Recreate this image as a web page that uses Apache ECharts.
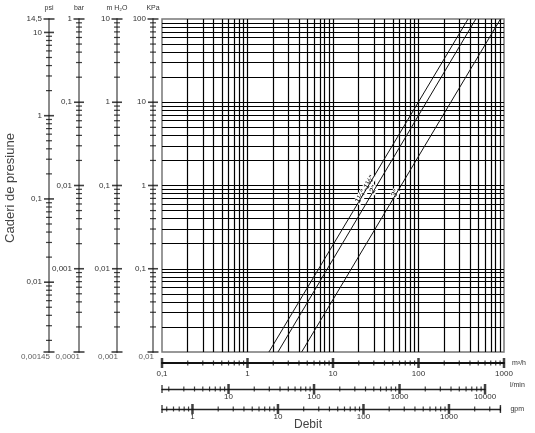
<!DOCTYPE html>
<html><head><meta charset="utf-8">
<script src="https://cdn.jsdelivr.net/npm/echarts@6/dist/echarts.min.js"></script>
<style>html,body{margin:0;padding:0;background:#fff}#c{width:535px;height:433px}</style>
</head><body><div id="c"></div>
<script>
// ---------------- DATA ----------------
// pressure-loss curves: [flow m3/h, pressure drop KPa]
const curveNames = ['1¼"-1½"', '2"', '3"'];
const curve1 = [[1.78, 0.01], [380, 100]];
const curve2 = [[2.27, 0.01], [468, 100]];
const curve3 = [[4.30, 0.01], [910, 100]];
const curveLabelKPa = [0.95, 0.95, 0.85];

// main axes ranges
const flowRange = [0.1, 1000];     // m3/h
const kpaRange = [0.01, 100];      // KPa
// left pressure scales
const psiRange = [0.00145, 14.5];
const barRange = [0.0001, 1];
const mh2oRange = [0.001, 10];
// bottom flow scales
const lminRange = [1.66667, 10000];
const gpmRange = [0.44029, 4000];
// tick multipliers inside a decade (1 = decade tick)
const decadeMultipliers = [1, 2, 3, 4, 5, 6, 7, 8, 9];
// titles
const leftTitles = ['psi', 'bar', 'm H\u2082O', 'KPa'];
const bottomTitles = ['m\u00b3/h', 'l/min', 'gpm'];
const yTitle = 'Caderi de presiune';
const xTitle = 'Debit';

// ---------------- LAYOUT ----------------
const FONT = "'Liberation Sans', Arial, sans-serif";
const TXT = '#333';
const plot = {left: 162, top: 19, width: 342, height: 333};
const leftX = [49, 79, 117, 153];
const bottomY = [363, 389, 409];

function decadeTicks(min, max) {
  const majors = [], minors = [];
  const k0 = Math.floor(Math.log10(min)) - 1, k1 = Math.ceil(Math.log10(max)) + 1;
  for (let k = k0; k <= k1; k++) for (const m of decadeMultipliers) {
    const v = +(m * Math.pow(10, k)).toPrecision(6);
    if (v < min * (1 - 1e-6) || v > max * (1 + 1e-6)) continue;
    (m === 1 ? majors : minors).push(v);
  }
  return {majors, minors};
}
function fmt(v) { return String(+(+v).toPrecision(6)).replace('.', ','); }
function isDecade(v) { const l = Math.log10(v); return Math.abs(l - Math.round(l)) < 1e-6; }

const grid = [], xAxis = [], yAxis = [], series = [];

// main grid
grid.push({left: plot.left, top: plot.top, width: plot.width, height: plot.height, show: true,
  borderColor: '#777', borderWidth: 1.5, outerBoundsMode: 'none'});
xAxis.push({type: 'log', gridIndex: 0, min: flowRange[0], max: flowRange[1], show: false});
yAxis.push({type: 'log', gridIndex: 0, min: kpaRange[0], max: kpaRange[1], show: false});

const vt = decadeTicks(flowRange[0], flowRange[1]);
const ht = decadeTicks(kpaRange[0], kpaRange[1]);
const vLines = vt.majors.concat(vt.minors).filter(v => v > flowRange[0] * 1.0001 && v < flowRange[1] * 0.9999);
const hLines = ht.majors.concat(ht.minors).filter(v => v > kpaRange[0] * 1.0001 && v < kpaRange[1] * 0.9999);
series.push({type: 'line', xAxisIndex: 0, yAxisIndex: 0, data: [], silent: true,
  markLine: {silent: true, symbol: ['none', 'none'], label: {show: false}, animation: false,
    lineStyle: {color: '#000', width: 1.2, type: 'solid'},
    data: vLines.map(v => ({xAxis: v})).concat(hLines.map(v => ({yAxis: v})))}});

[curve1, curve2, curve3].forEach((c, i) => {
  const lq0 = Math.log10(c[0][0]), lp0 = Math.log10(c[0][1]);
  const lq1 = Math.log10(c[1][0]), lp1 = Math.log10(c[1][1]);
  const lp = Math.log10(curveLabelKPa[i]);
  const q = Math.pow(10, lq0 + (lp - lp0) * (lq1 - lq0) / (lp1 - lp0));
  series.push({type: 'line', name: curveNames[i], xAxisIndex: 0, yAxisIndex: 0, data: c,
    symbol: 'none', silent: true, z: 5, lineStyle: {color: '#111', width: 1},
    markPoint: {symbol: 'circle', symbolSize: 0, silent: true, animation: false,
      data: [{coord: [q, curveLabelKPa[i]], value: curveNames[i]}],
      label: {show: true, position: 'inside', formatter: curveNames[i], rotate: 59,
        fontSize: 8, fontFamily: FONT, color: '#000', backgroundColor: '#fff', padding: [0, 1],
        offset: [-3, -1]}}});
});

// left pressure scales
const leftRanges = [psiRange, barRange, mh2oRange, kpaRange];
leftRanges.forEach((r, i) => {
  const gi = grid.length;
  grid.push({left: leftX[i], top: plot.top, width: 10, height: plot.height, outerBoundsMode: 'none'});
  xAxis.push({type: 'value', gridIndex: gi, min: 0, max: 1, show: false});
  yAxis.push({type: 'log', gridIndex: gi, min: r[0], max: r[1], position: 'left',
    axisLine: {show: true, onZero: false, lineStyle: {color: '#8c8c8c', width: 2}},
    axisTick: {show: false}, splitLine: {show: false},
    axisLabel: {fontSize: 8, fontFamily: FONT, color: TXT, margin: 7, showMinLabel: false, showMaxLabel: true,
      formatter: fmt},
    name: leftTitles[i], nameLocation: 'end', nameGap: 7,
    nameTextStyle: {fontSize: 7, fontFamily: FONT, color: TXT}});
  const t = decadeTicks(r[0], r[1]);
  const majors = t.majors.filter(v => v > r[0] * 1.0001 && v < r[1] * 0.9999);
  series.push({type: 'scatter', xAxisIndex: gi, yAxisIndex: gi, silent: true, clip: false, z: 6,
    symbol: 'rect', symbolSize: [6, 1.2], itemStyle: {color: '#111'}, data: t.minors.map(v => [0, v])});
  series.push({type: 'scatter', xAxisIndex: gi, yAxisIndex: gi, silent: true, clip: false, z: 6,
    symbol: 'rect', symbolSize: [10, 1.6], itemStyle: {color: '#111'}, data: majors.map(v => [0, v])});
  series.push({type: 'scatter', xAxisIndex: gi, yAxisIndex: gi, silent: true, clip: false, z: 6,
    symbol: 'rect', symbolSize: [11, 1.6], itemStyle: {color: '#111'},
    data: [
      {value: [0, r[0]], label: {show: true, position: 'bottom', distance: 0, align: 'right',
        offset: [1, 0], formatter: fmt(r[0]), fontSize: 8, fontFamily: FONT, color: TXT}},
      [0, r[1]]]});
});

// bottom flow scales
const bottomRanges = [flowRange, lminRange, gpmRange];
const bottomGap = [8, 25, 10];
const bottomMargin = [7, 4, 4];
bottomRanges.forEach((r, i) => {
  const gi = grid.length;
  const w = plot.width * Math.log10(r[1] / r[0]) / Math.log10(flowRange[1] / flowRange[0]);
  grid.push({left: plot.left, top: bottomY[i] - 10, width: w, height: 10, outerBoundsMode: 'none'});
  xAxis.push({type: 'log', gridIndex: gi, min: r[0], max: r[1], position: 'bottom',
    axisLine: {show: true, onZero: false, lineStyle: {color: i === 0 ? '#111' : '#222', width: i === 0 ? 2 : 1.3}},
    axisTick: {show: false}, splitLine: {show: false},
    axisLabel: {fontSize: 8, fontFamily: FONT, color: TXT, margin: bottomMargin[i], showMinLabel: true, showMaxLabel: true,
      formatter: v => isDecade(v) ? fmt(v) : ''},
    name: bottomTitles[i], nameLocation: 'end', nameGap: bottomGap[i],
    nameTextStyle: {fontSize: 7, fontFamily: FONT, color: TXT, verticalAlign: i === 1 ? 'bottom' : 'middle'}});
  yAxis.push({type: 'value', gridIndex: gi, min: 0, max: 1, show: false});
  const t = decadeTicks(r[0], r[1]);
  series.push({type: 'scatter', xAxisIndex: gi, yAxisIndex: gi, silent: true, clip: false, z: 6,
    symbol: 'rect', symbolSize: [1.2, 5], itemStyle: {color: '#111'}, data: t.minors.map(v => [v, 0])});
  series.push({type: 'scatter', xAxisIndex: gi, yAxisIndex: gi, silent: true, clip: false, z: 6,
    symbol: 'rect', symbolSize: [2.5, 10], itemStyle: {color: '#111'}, data: t.majors.map(v => [v, 0])});
  series.push({type: 'scatter', xAxisIndex: gi, yAxisIndex: gi, silent: true, clip: false, z: 6,
    symbol: 'rect', symbolSize: [1.4, 8], itemStyle: {color: '#111'},
    data: [r[0], r[1]].filter(v => !isDecade(v)).map(v => [v, 0])});
});

const chart = echarts.init(document.getElementById('c'), null, {renderer: 'canvas'});
chart.setOption({
  animation: false,
  backgroundColor: '#fff',
  grid, xAxis, yAxis, series,
  graphic: [
    {type: 'text', x: 10, y: 188, rotation: Math.PI / 2, silent: true,
      style: {text: yTitle, fontSize: 13, fontFamily: "'Liberation Sans Narrow', " + FONT, fill: '#444',
        align: 'center', verticalAlign: 'middle'}},
    {type: 'text', x: 308, y: 425, silent: true,
      style: {text: xTitle, fontSize: 12, fontFamily: "'Liberation Sans Narrow', " + FONT, fill: '#444',
        align: 'center', verticalAlign: 'middle'}}
  ]
});
</script>
</body></html>
